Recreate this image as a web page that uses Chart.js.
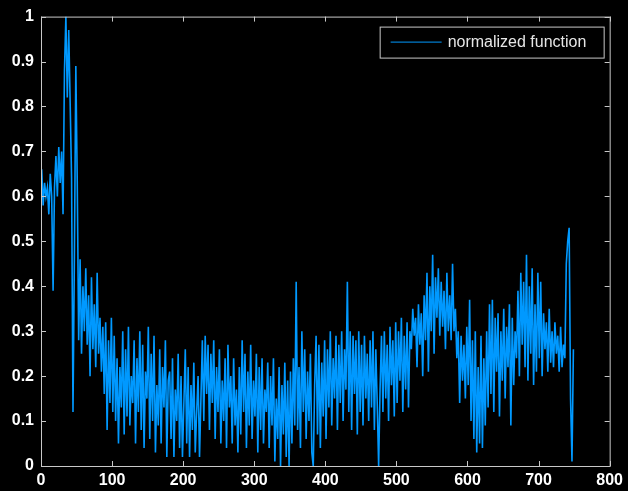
<!DOCTYPE html>
<html lang="en">
<head>
  <meta charset="UTF-8" />
  <title>Normalized function</title>
  <script src="https://cdn.jsdelivr.net/npm/chart.js"></script>
  <style>
    html, body { margin: 0; padding: 0; background: #000; }
    #wrap { width: 628px; height: 491px; }
  </style>
</head>
<body>
  <div id="wrap"><canvas id="myChart" width="628" height="491"></canvas></div>

  <script>
    // samples are taken every 2 steps starting at x = 1
    const firstX = 1;
    const stepX = 2;
    const seriesLabel = 'normalized function';
    const values = [
      0.66,0.58,0.63,0.60,0.62,0.56,0.65,0.60,0.39,0.62,
      0.69,0.60,0.71,0.63,0.70,0.56,0.88,1.00,0.82,0.97,
      0.81,0.64,0.12,0.47,0.89,0.63,0.28,0.46,0.25,0.40,
      0.30,0.44,0.27,0.38,0.20,0.42,0.26,0.36,0.22,0.43,
      0.25,0.33,0.21,0.31,0.16,0.32,0.08,0.28,0.14,0.33,
      0.12,0.29,0.10,0.24,0.05,0.22,0.13,0.30,0.07,0.26,
      0.11,0.31,0.09,0.20,0.14,0.28,0.05,0.24,0.12,0.30,
      0.08,0.27,0.04,0.21,0.15,0.31,0.06,0.25,0.10,0.29,
      0.03,0.18,0.09,0.26,0.05,0.22,0.13,0.28,0.02,0.19,
      0.21,0.06,0.24,0.02,0.17,0.10,0.25,0.04,0.20,0.02,
      0.14,0.26,0.05,0.22,0.02,0.18,0.08,0.23,0.03,0.12,
      0.20,0.02,0.15,0.28,0.10,0.29,0.16,0.27,0.08,0.25,
      0.14,0.28,0.06,0.22,0.12,0.26,0.05,0.19,0.10,0.24,
      0.04,0.27,0.13,0.20,0.05,0.24,0.09,0.17,0.03,0.22,
      0.07,0.28,0.12,0.25,0.04,0.21,0.09,0.27,0.06,0.19,
      0.11,0.25,0.03,0.22,0.08,0.24,0.05,0.17,0.12,0.23,
      0.04,0.20,0.09,0.24,0.01,0.15,0.06,0.22,0.00,0.18,
      0.07,0.23,0.02,0.19,0.00,0.21,0.05,0.24,0.09,0.41,
      0.08,0.22,0.04,0.30,0.12,0.26,0.06,0.21,0.10,0.25,
      0.03,0.00,0.18,0.29,0.07,0.27,0.04,0.23,0.11,0.28,
      0.06,0.26,0.13,0.30,0.09,0.24,0.15,0.29,0.08,0.27,
      0.14,0.30,0.10,0.26,0.17,0.41,0.12,0.30,0.08,0.29,
      0.16,0.28,0.07,0.30,0.12,0.27,0.09,0.29,0.15,0.25,
      0.10,0.28,0.13,0.30,0.08,0.26,0.14,0.00,0.17,0.29,
      0.12,0.30,0.15,0.27,0.10,0.31,0.18,0.28,0.11,0.32,
      0.14,0.30,0.19,0.33,0.12,0.29,0.17,0.32,0.13,0.30,
      0.26,0.35,0.29,0.33,0.22,0.36,0.27,0.34,0.20,0.38,
      0.28,0.43,0.21,0.40,0.30,0.47,0.25,0.42,0.33,0.44,
      0.29,0.41,0.31,0.39,0.26,0.43,0.30,0.38,0.28,0.45,
      0.30,0.35,0.24,0.30,0.14,0.29,0.19,0.27,0.15,0.31,
      0.18,0.37,0.10,0.28,0.06,0.30,0.03,0.22,0.05,0.29,
      0.04,0.24,0.09,0.30,0.13,0.36,0.16,0.37,0.12,0.33,
      0.21,0.34,0.11,0.30,0.19,0.35,0.15,0.31,0.22,0.36,
      0.09,0.33,0.18,0.30,0.24,0.39,0.20,0.43,0.27,0.41,
      0.22,0.47,0.19,0.40,0.25,0.44,0.18,0.36,0.21,0.43,
      0.24,0.41,0.20,0.34,0.26,0.32,0.21,0.35,0.23,0.30,
      0.22,0.32,0.25,0.29,0.21,0.31,0.22,0.27,0.24,0.45,
      0.50,0.53,0.15,0.01,0.26
    ];
    const xTicks = [0, 100, 200, 300, 400, 500, 600, 700, 800];
    const yTicks = [0, 0.1, 0.2, 0.3, 0.4, 0.5, 0.6, 0.7, 0.8, 0.9, 1];

    const lineColor = 'rgb(0,153,255)';
    const boxColor = '#c8c8c8';

    const points = values.map((v, i) => ({ x: firstX + i * stepX, y: v }));

    // MATLAB-like box with inward ticks on all four sides
    const boxPlugin = {
      id: 'box',
      afterDraw(chart) {
        const { ctx, chartArea: a, scales } = chart;
        ctx.save();
        ctx.strokeStyle = boxColor;
        ctx.lineWidth = 1;
        ctx.strokeRect(a.left + 0.5, a.top + 0.5, a.right - a.left, a.bottom - a.top);
        ctx.beginPath();
        xTicks.forEach(t => {
          const px = Math.round(scales.x.getPixelForValue(t)) + 0.5;
          ctx.moveTo(px, a.bottom); ctx.lineTo(px, a.bottom - 5);
          ctx.moveTo(px, a.top); ctx.lineTo(px, a.top + 5);
        });
        yTicks.forEach(t => {
          const py = Math.round(scales.y.getPixelForValue(t)) + 0.5;
          ctx.moveTo(a.left, py); ctx.lineTo(a.left + 5, py);
          ctx.moveTo(a.right, py); ctx.lineTo(a.right - 5, py);
        });
        ctx.stroke();
        ctx.restore();
      }
    };

    // legend box in the top right corner
    const legendPlugin = {
      id: 'boxLegend',
      afterDraw(chart) {
        const { ctx, chartArea: a } = chart;
        const ds = chart.data.datasets[0];
        const x0 = a.right - 230, y0 = a.top + 10, w = 224, h = 31;
        ctx.save();
        ctx.fillStyle = '#000';
        ctx.fillRect(x0, y0, w, h);
        ctx.strokeStyle = boxColor;
        ctx.lineWidth = 1;
        ctx.strokeRect(x0 + 0.5, y0 + 0.5, w, h);
        ctx.strokeStyle = ds.borderColor;
        ctx.beginPath();
        ctx.moveTo(x0 + 11, y0 + 15.5);
        ctx.lineTo(x0 + 62, y0 + 15.5);
        ctx.stroke();
        ctx.fillStyle = '#e6e6e6';
        ctx.font = '16px "Liberation Sans", Arial, sans-serif';
        ctx.textBaseline = 'middle';
        ctx.fillText(ds.label, x0 + 68, y0 + 16);
        ctx.restore();
      }
    };

    const tickFont = { family: '"Liberation Sans", Arial, sans-serif', size: 16, weight: 'bold' };

    const ctx = document.getElementById('myChart').getContext('2d');
    const myChart = new Chart(ctx, {
      type: 'line',
      data: {
        datasets: [{
          label: seriesLabel,
          data: points,
          borderColor: lineColor,
          borderWidth: 1.6,
          pointRadius: 0,
          tension: 0,
          fill: false
        }]
      },
      options: {
        responsive: false,
        animation: false,
        layout: { padding: { top: 16, right: 16, left: 0, bottom: 0 } },
        plugins: { legend: { display: false }, tooltip: { enabled: false } },
        scales: {
          x: {
            type: 'linear',
            min: 0, max: 800,
            afterBuildTicks(s) { s.ticks = xTicks.map(v => ({ value: v })); },
            afterFit(s) { s.height = 25; },
            grid: { display: false, drawTicks: false },
            border: { display: false },
            ticks: { color: '#fff', font: tickFont, padding: 5, maxRotation: 0,
              callback: v => String(v) }
          },
          y: {
            type: 'linear',
            min: 0, max: 1,
            afterBuildTicks(s) { s.ticks = yTicks.map(v => ({ value: v })); },
            afterFit(s) { s.width = 41; },
            grid: { display: false, drawTicks: false },
            border: { display: false },
            ticks: { color: '#fff', font: tickFont, padding: 7,
              callback: v => String(Number(v.toFixed(1))) }
          }
        }
      },
      plugins: [boxPlugin, legendPlugin]
    });
  </script>
</body>
</html>
